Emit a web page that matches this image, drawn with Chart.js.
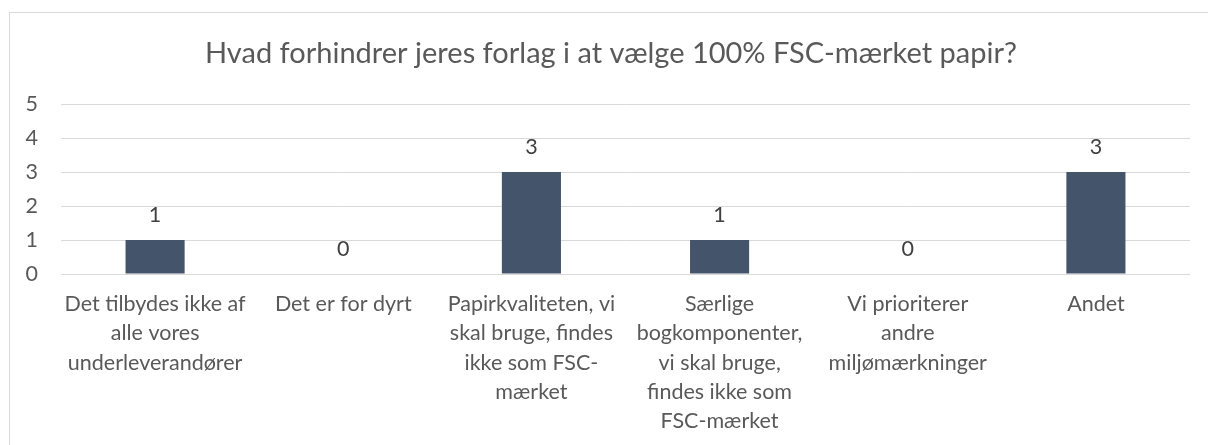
<!DOCTYPE html>
<html>
<head>
<meta charset="utf-8">
<script src="https://cdn.jsdelivr.net/npm/chart.js@4.4.0/dist/chart.umd.min.js"></script>
<style>
   html, body { margin: 0; padding: 0; background: #fff; overflow: hidden; }
   #wrap { position: relative; width: 1208px; height: 445px; }
   #frame { position: absolute; left: 9px; top: 12px; width: 1400px; height: 600px; border: 1px solid #d9d9d9; box-sizing: border-box; }
   canvas { position: absolute; left: 0; top: 0; }
</style>
</head>
<body>
<div id="wrap">
   <div id="frame"></div>
   <canvas id="fsc-chart" width="1208" height="445"></canvas>
</div>
<script>
// categories (already wrapped like the original)
const categories = [
   ["Det tilbydes ikke af", "alle vores", "underleverandører"],
   ["Det er for dyrt"],
   ["Papirkvaliteten, vi", "skal bruge, findes", "ikke som FSC-", "mærket"],
   ["Særlige", "bogkomponenter,", "vi skal bruge,", "findes ikke som", "FSC-mærket"],
   ["Vi prioriterer", "andre", "miljømærkninger"],
   ["Andet"],
];
const answers = [1, 0, 3, 1, 0, 3];
const yTicks = [0, 1, 2, 3, 4, 5];
const chartTitle = "Hvad forhindrer jeres forlag i at vælge 100% FSC-mærket papir?";

const fontFamily = "Lato, 'Open Sans', sans-serif";

// draws the value above each bar
const valueLabels = {
   id: "valueLabels",
   afterDatasetsDraw(chart) {
      const ctx = chart.ctx;
      const meta = chart.getDatasetMeta(0);
      ctx.save();
      ctx.font = "21.5px " + fontFamily;
      ctx.fillStyle = "#404040";
      ctx.textAlign = "center";
      ctx.textBaseline = "middle";
      meta.data.forEach((bar, i) => {
         ctx.fillText(String(answers[i]), bar.x, bar.y - 25);
      });
      ctx.restore();
   },
};

// title centred on the framed chart space, like in Excel
const frameTitle = {
   id: "frameTitle",
   afterDraw(chart) {
      const ctx = chart.ctx;
      ctx.save();
      ctx.font = "29px " + fontFamily;
      ctx.fillStyle = "#595959";
      ctx.textAlign = "center";
      ctx.textBaseline = "middle";
      ctx.fillText(chartTitle, chart.width / 2 + 7, 54);
      ctx.restore();
   },
};

const ctx = document.getElementById("fsc-chart").getContext("2d");
const fscChart = new Chart(ctx, {
   type: "bar",
   data: {
      labels: categories,
      datasets: [
         {
            label: "Antal",
            data: answers,
            backgroundColor: "#44546A",
            categoryPercentage: 1,
            barPercentage: 0.314,
         },
      ],
   },
   options: {
      responsive: false,
      animation: false,
      layout: { padding: { left: 0, right: 18, top: 104, bottom: 0 } },
      plugins: {
         legend: { display: false },
         tooltip: { enabled: false },
         title: { display: false },
      },
      scales: {
         x: {
            grid: { display: false, drawTicks: false },
            border: { display: false },
            ticks: {
               color: "#595959",
               font: { family: fontFamily, size: 21.5, lineHeight: 1.35 },
               maxRotation: 0,
               autoSkip: false,
               padding: 16,
            },
            afterFit(scale) {
               scale.height = 171;
            },
         },
         y: {
            min: 0,
            max: 5,
            afterBuildTicks(scale) {
               scale.ticks = yTicks.map((v) => ({ value: v }));
            },
            grid: { color: "#d9d9d9", drawTicks: false },
            border: { display: false },
            ticks: {
               color: "#595959",
               font: { family: fontFamily, size: 21.5 },
               padding: 23,
            },
            afterFit(scale) {
               scale.width = 61;
            },
         },
      },
   },
   plugins: [valueLabels, frameTitle],
});
</script>
</body>
</html>
